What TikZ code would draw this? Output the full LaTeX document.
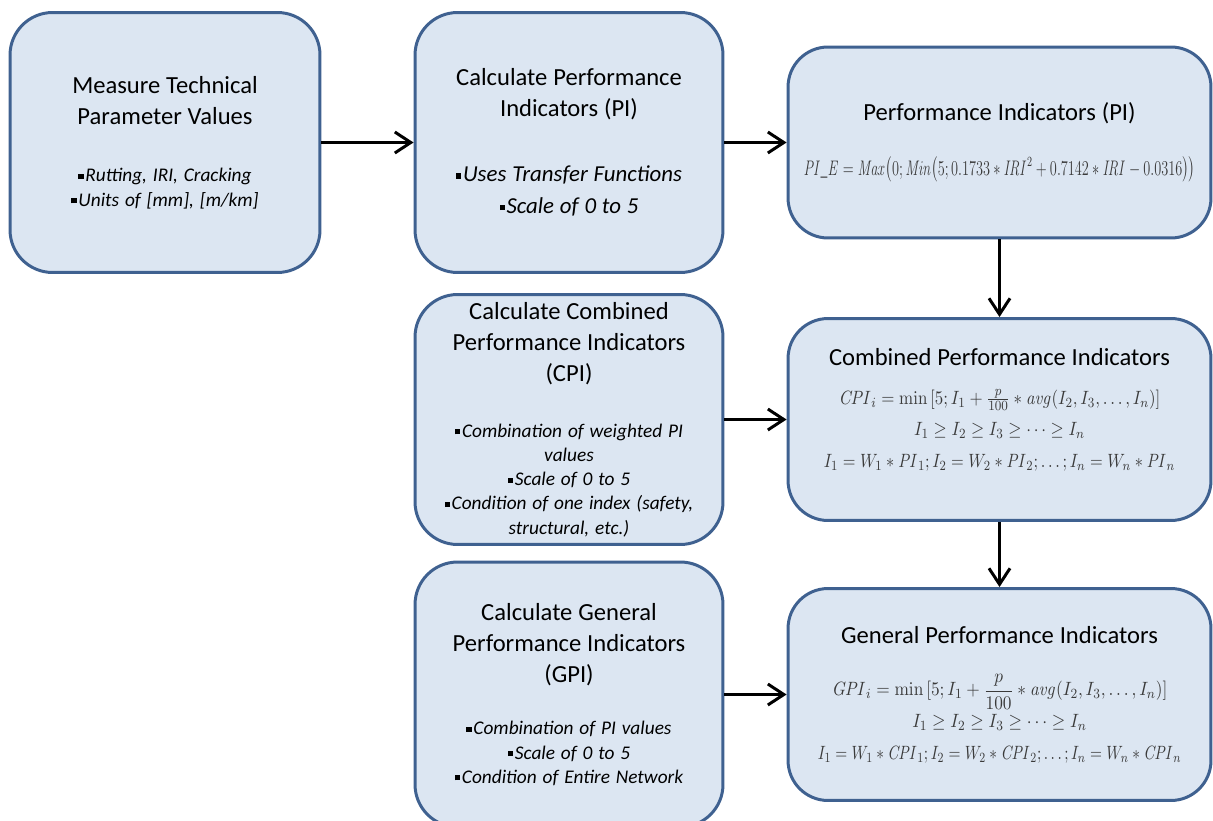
\documentclass[tikz,border=0pt]{standalone}
\usepackage{amsmath}
\usepackage{graphicx}
\usepackage[no-math]{fontspec}
\setmainfont{Carlito}
\usetikzlibrary{arrows.meta}

\definecolor{boxfill}{HTML}{DCE6F2}
\definecolor{boxline}{HTML}{3F6190}
\definecolor{formula}{HTML}{3A3A3A}

\newcommand{\ttl}{\fontsize{14}{17.6}\selectfont}
\newcommand{\itm}{\fontsize{11}{13.8}\selectfont\itshape}
\newcommand{\itmbig}{\fontsize{13}{18}\selectfont\itshape}
\newcommand{\frm}{\fontsize{11}{18}\selectfont\color{formula}}
\newcommand{\bul}{\rule[0.3ex]{3pt}{3pt}\hspace{1pt}}
% one formula line, condensed and centred
\newcommand{\fl}[2][0.88]{\makebox[0pt]{\scalebox{#1}[1]{$#2$}}}

\tikzstyle{block} = [rectangle, draw=boxline, fill=boxfill, line width=1.7pt,
    align=center, rounded corners=0.85cm, inner sep=2pt, text width=6cm]
\tikzstyle{wide} = [block, rounded corners=0.8cm, minimum width=8.46cm, text width=8.3cm]
\tikzstyle{line} = [draw, line width=1.7pt, -{Straight Barb[length=0.32cm,width=0.42cm,line width=1.7pt]}]

\begin{document}
\begin{tikzpicture}[x=0.02cm, y=-0.02cm]
	\clip (0,0) rectangle (1213,821);

	% left column
	\node [block, minimum width=6.2cm, minimum height=5.2cm] (measure) at (165,142.5)
		{{\ttl Measure Technical\\ Parameter Values\par}\vspace{19pt}
		 {\itm\bul Rutting, IRI, Cracking\\ \bul Units of [mm], [m/km]\par}};

	% middle column
	\node [block, minimum width=6.16cm, minimum height=5.2cm] (calcpi) at (569,142.5)
		{{\ttl Calculate Performance\\ Indicators (PI)\par}\vspace{19pt}
		 {\itmbig\bul Uses Transfer Functions\\ \bul Scale of 0 to 5\par}};
	\node [block, minimum width=6.16cm, minimum height=5cm] (calccpi) at (569,419.5)
		{{\ttl Calculate Combined\\ Performance Indicators\\ (CPI)\par}\vspace{18pt}
		 {\itm\bul Combination of weighted PI\\ values\\ \bul Scale of 0 to 5\\
		 \bul Condition of one index (safety,\\ structural, etc.)\par}};
	\node [block, minimum width=6.16cm, minimum height=5.3cm] (calcgpi) at (569,694.5)
		{{\ttl Calculate General\\ Performance Indicators\\ (GPI)\par}\vspace{16pt}
		 {\itm\bul Combination of PI values\\ \bul Scale of 0 to 5\\
		 \bul Condition of Entire Network\par}};

	% right column
	\node [wide, minimum height=3.82cm] (pi) at (999.5,142.5)
		{{\ttl Performance Indicators (PI)\par}\vspace{17pt}
		 {\fontsize{11.5}{14}\selectfont\color{formula}\fl[0.68]{\mathit{PI\_E} = \mathit{Max}\bigl(0;\mathit{Min}\bigl(5;0.1733*\mathit{IRI}^2+0.7142*\mathit{IRI}-0.0316\bigr)\bigr)}\par}};
	\node [wide, minimum height=4.04cm] (cpi) at (999.5,419.5)
		{{\ttl Combined Performance Indicators\par}\vspace{4pt}
		 {\frm \fl{\mathit{CPI}_i = \min\,[5; I_1+\tfrac{p}{100}*\mathit{avg}(I_2,I_3,\dots,I_n)]}\\
		 \fl{I_1 \ge I_2 \ge I_3 \ge \cdots \ge I_n}\\
		 \fl[0.85]{I_1 = W_1*\mathit{PI}_1; I_2 = W_2*\mathit{PI}_2; \dots; I_n = W_n*\mathit{PI}_n}\par}
		 \nointerlineskip\rule{0pt}{11pt}};
	\node [wide, minimum height=4.24cm] (gpi) at (999.5,694.5)
		{{\ttl General Performance Indicators\par}\vspace{12pt}
		 {\frm \fl[0.9]{\mathit{GPI}_i = \min\,[5; I_1+\dfrac{p}{100}*\mathit{avg}(I_2,I_3,\dots,I_n)]}\\
		 \fl[0.9]{I_1 \ge I_2 \ge I_3 \ge \cdots \ge I_n}\\
		 \fl[0.8]{I_1 = W_1*\mathit{CPI}_1; I_2 = W_2*\mathit{CPI}_2; \dots; I_n = W_n*\mathit{CPI}_n}\par}};

	% connectors
	\path [line] (measure) -- (calcpi);
	\path [line] (calcpi) -- (pi);
	\path [line] (pi) -- (cpi);
	\path [line] (calccpi) -- (cpi);
	\path [line] (cpi) -- (gpi);
	\path [line] (calcgpi) -- (gpi);
\end{tikzpicture}
\end{document}
